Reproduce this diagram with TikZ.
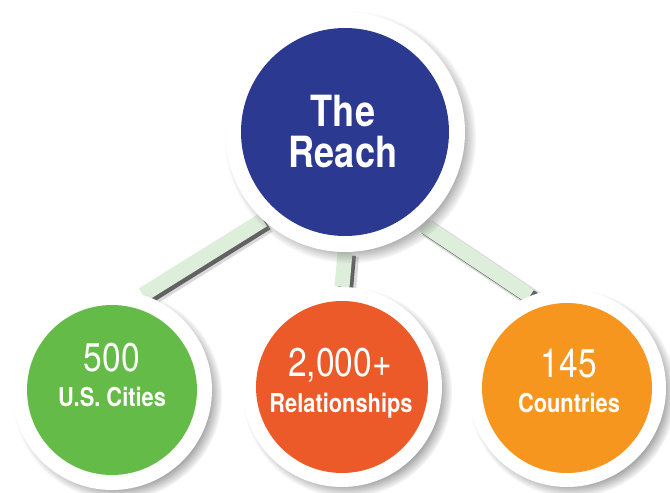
\documentclass[tikz,border=0pt]{standalone}
\usepackage{fontspec}
\setmainfont{TeX Gyre Heros}
\newfontfamily\cond[FakeStretch=0.84]{TeX Gyre Heros}
\usetikzlibrary{shadows}
\definecolor{reachblue}{HTML}{2B3990}
\definecolor{citygreen}{HTML}{65BB47}
\definecolor{relred}{HTML}{EB5A28}
\definecolor{ctyorange}{HTML}{F7961F}
\definecolor{bandgreen}{HTML}{DDEFDA}
\tikzset{
  ring/.style={circle, fill=white, inner sep=0pt,
    circular drop shadow={shadow xshift=5pt, shadow yshift=-5pt, shadow scale=1.05, opacity=0.85}},
  disc/.style={circle, inner sep=0pt},
  bigtxt/.style={font=\cond\bfseries\fontsize{43}{43}\selectfont, text=white, anchor=base},
  numtxt/.style={font=\cond\fontsize{40}{40}\selectfont, text=white, anchor=base},
  labtxt/.style={font=\cond\bfseries\fontsize{26}{26}\selectfont, text=white, anchor=base},
  bandshadowwide/.style={line width=18pt, black, opacity=0.15, transform canvas={shift={(5pt,-4pt)}}},
  bandshadow/.style={line width=15pt, black, opacity=0.55, transform canvas={shift={(3.5pt,-3pt)}}},
  bandline/.style={line width=15pt, bandgreen}
}
\begin{document}
\begin{tikzpicture}[x=1pt,y=1pt]
\useasboundingbox (0,0) rectangle (670,493);
% outer rings (named, used as connector ends)
\path (345,361) node[minimum size=240pt, circle, inner sep=0pt] (top) {};
\path (112,103) node[minimum size=200pt, circle, inner sep=0pt] (cities) {};
\path (342,106) node[minimum size=200pt, circle, inner sep=0pt] (rel) {};
\path (567,105) node[minimum size=198pt, circle, inner sep=0pt] (ctry) {};
% connectors
\foreach \a/\b in {top.227/cities.72, top.south/rel.north, top.310/ctry.112}{
  \draw[bandshadowwide] (\a) -- (\b);
  \draw[bandshadow] (\a) -- (\b);
  \draw[bandline] (\a) -- (\b);
}
% circles
\node[ring, minimum size=240pt] (topring) at (top) {};
\node[disc, fill=reachblue, minimum size=208pt] (topdisc) at (top) {};
\node[ring, minimum size=200pt] (cring) at (cities) {};
\node[disc, fill=citygreen, minimum size=170pt] (cdisc) at (cities) {};
\node[ring, minimum size=200pt] (rring) at (rel) {};
\node[disc, fill=relred, minimum size=172pt] (rdisc) at (rel) {};
\node[ring, minimum size=198pt] (oring) at (ctry) {};
\node[disc, fill=ctyorange, minimum size=170pt] (odisc) at (ctry) {};
% texts
\node[bigtxt] (the) at (343,366) {The};
\node[bigtxt] (reach) at (343,325) {Reach};
\node[numtxt] (n500) at (112,121) {500};
\node[labtxt] (lcities) at (112,86) {U.S. Cities};
\node[numtxt] (n2000) at (340,116) {2,000+};
\node[labtxt] (lrel) at (341,80) {Relationships};
\node[numtxt] (n145) at (569,115) {145};
\node[labtxt] (lctry) at (569,80) {Countries};
\end{tikzpicture}
\end{document}
